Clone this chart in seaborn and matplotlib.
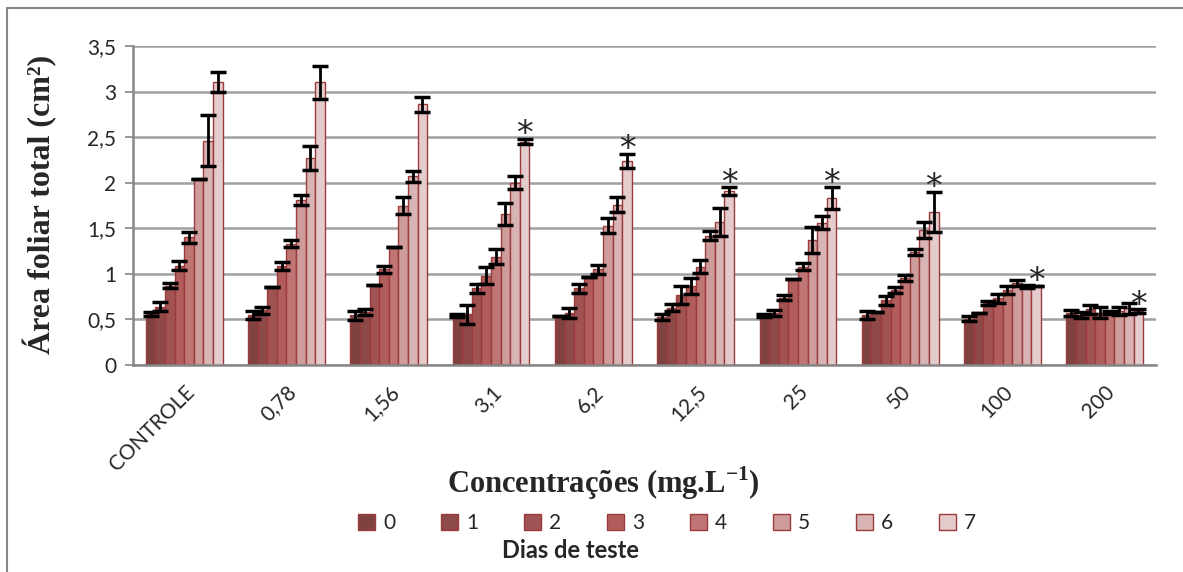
import numpy as np
import pandas as pd
import matplotlib
matplotlib.use('Agg')
import matplotlib.pyplot as plt
import seaborn as sns
from matplotlib.patches import Rectangle

# concentrations (x categories) and test days (hue)
conc = ['CONTROLE', '0,78', '1,56', '3,1', '6,2', '12,5', '25', '50', '100', '200']
days = ['0', '1', '2', '3', '4', '5', '6', '7']

# mean leaf area per concentration, days 0..7
area_controle = [0.56, 0.64, 0.87, 1.09, 1.40, 2.04, 2.46, 3.10]
area_078 = [0.545, 0.60, 0.86, 1.09, 1.33, 1.81, 2.27, 3.10]
area_156 = [0.545, 0.58, 0.88, 1.05, 1.29, 1.75, 2.07, 2.86]
area_31 = [0.545, 0.555, 0.84, 0.98, 1.19, 1.66, 2.00, 2.45]
area_62 = [0.54, 0.575, 0.84, 0.97, 1.05, 1.53, 1.76, 2.24]
area_125 = [0.53, 0.63, 0.77, 0.87, 1.08, 1.42, 1.57, 1.91]
area_25 = [0.545, 0.57, 0.74, 0.94, 1.08, 1.37, 1.56, 1.83]
area_50 = [0.55, 0.58, 0.71, 0.82, 0.955, 1.24, 1.48, 1.68]
area_100 = [0.51, 0.57, 0.68, 0.73, 0.82, 0.90, 0.86, 0.87]
area_200 = [0.57, 0.55, 0.61, 0.575, 0.575, 0.595, 0.62, 0.59]

# error (+/-)
err_controle = [0.02, 0.05, 0.025, 0.05, 0.06, 0.0, 0.28, 0.11]
err_078 = [0.045, 0.035, 0.0, 0.045, 0.04, 0.05, 0.135, 0.18]
err_156 = [0.05, 0.035, 0.0, 0.04, 0.0, 0.09, 0.06, 0.08]
err_31 = [0.02, 0.10, 0.05, 0.09, 0.08, 0.12, 0.07, 0.03]
err_62 = [0.0, 0.055, 0.05, 0.0, 0.05, 0.08, 0.08, 0.08]
err_125 = [0.035, 0.035, 0.10, 0.09, 0.07, 0.045, 0.15, 0.04]
err_25 = [0.02, 0.03, 0.025, 0.0, 0.035, 0.14, 0.07, 0.12]
err_50 = [0.04, 0.0, 0.05, 0.035, 0.035, 0.03, 0.085, 0.22]
err_100 = [0.025, 0.0, 0.02, 0.045, 0.045, 0.03, 0.02, 0.0]
err_200 = [0.035, 0.03, 0.045, 0.06, 0.015, 0.045, 0.06, 0.02]

# significance mark on day 7
signif = ['', '', '', '*', '*', '*', '*', '*', '*', '*']

yticks = [0, 0.5, 1, 1.5, 2, 2.5, 3, 3.5]
ytick_labels = ['0', '0,5', '1', '1,5', '2', '2,5', '3', '3,5']

colors = ['#8A3837', '#9A3E3D', '#AD4645', '#BE4F4E', '#CB6968',
          '#D59493', '#DEAEAF', '#E8C8C9']

areas = [area_controle, area_078, area_156, area_31, area_62,
         area_125, area_25, area_50, area_100, area_200]
errs = [err_controle, err_078, err_156, err_31, err_62,
        err_125, err_25, err_50, err_100, err_200]

rows = []
for c, a, e in zip(conc, areas, errs):
    for dday, v, ev in zip(days, a, e):
        rows.append({'conc': c, 'dia': dday, 'area': v, 'err': ev})
d = pd.DataFrame(rows)

sns.set_style('white')
plt.rcParams['font.family'] = ['Lato', 'DejaVu Sans']
plt.rcParams['mathtext.fontset'] = 'custom'
plt.rcParams['mathtext.rm'] = 'Liberation Serif'
plt.rcParams['mathtext.bf'] = 'Liberation Serif:bold'

fig = plt.figure(figsize=(11.83, 5.72), dpi=100)
ax = fig.add_axes([133 / 1183, 1 - 365 / 572, (1156 - 133) / 1183, (365 - 46) / 572])

sns.barplot(data=d, x='conc', y='area', hue='dia', palette=colors,
            width=0.75, gap=0, errorbar=None, edgecolor='#9C3B3B',
            linewidth=1, ax=ax)

# error bars and asterisks from the bar positions
for i, day in enumerate(days):
    bars = ax.containers[i]
    xs = [b.get_x() + b.get_width() / 2 for b in bars]
    sub = d[d['dia'] == day]
    ax.errorbar(xs, sub['area'].values, yerr=sub['err'].values, fmt='none',
                ecolor='black', elinewidth=2, capsize=6, capthick=2.5, zorder=5)
    if day == '7':
        for x, y, e, s in zip(xs, sub['area'].values, sub['err'].values, signif):
            if s:
                ax.text(x, y + e - 0.06, s, ha='center', va='baseline',
                        fontsize=24, family='DejaVu Sans', zorder=6)

ax.set_xlim(-0.5, len(conc) - 0.5)
ax.set_ylim(0, 3.5)
ax.set_yticks(yticks)
ax.set_yticklabels(ytick_labels, fontsize=15)
ax.yaxis.grid(True, color='#A0A0A0', linewidth=1.8)
ax.set_axisbelow(True)
ax.tick_params(axis='y', length=6, width=1.2, color='#868686', pad=6, left=True)
ax.tick_params(axis='x', length=0, pad=12)
plt.setp(ax.get_xticklabels(), rotation=45, ha='right', rotation_mode='anchor',
         fontsize=15)
for s in ['top', 'right']:
    ax.spines[s].set_visible(False)
for s in ['left', 'bottom']:
    ax.spines[s].set_color('#868686')
    ax.spines[s].set_linewidth(1.8)
ax.set_xlabel('')
ax.set_ylabel('')

handles, labels = ax.get_legend_handles_labels()
ax.legend(handles, labels, loc='center left', bbox_to_anchor=(348 / 1183, 1 - 523 / 572),
          bbox_transform=fig.transFigure, ncol=8, frameon=False, fontsize=15,
          handlelength=0.8, handleheight=0.8, handletextpad=0.4, columnspacing=2.2,
          borderpad=0)

fig.text(570 / 1183, 1 - 550 / 572, 'Dias de teste', ha='center', va='center',
         fontsize=17, fontweight='bold')
fig.text(603 / 1183, 1 - 483 / 572, r'Concentrações (mg.L$^{\mathbf{-1}}$)',
         ha='center', va='center', fontsize=22, fontweight='bold',
         family='Liberation Serif')
fig.text(40 / 1183, 1 - 204 / 572, 'Área foliar total (cm²)', ha='center',
         va='center', rotation=90, fontsize=23, fontweight='bold',
         family='Liberation Serif')

fig.patches.append(Rectangle((7 / 1183, -0.1), 1.2, 1.1 - 8 / 572,
                             transform=fig.transFigure, fill=False,
                             edgecolor='#868686', linewidth=1.5))

fig.savefig('out.png', dpi=100)
